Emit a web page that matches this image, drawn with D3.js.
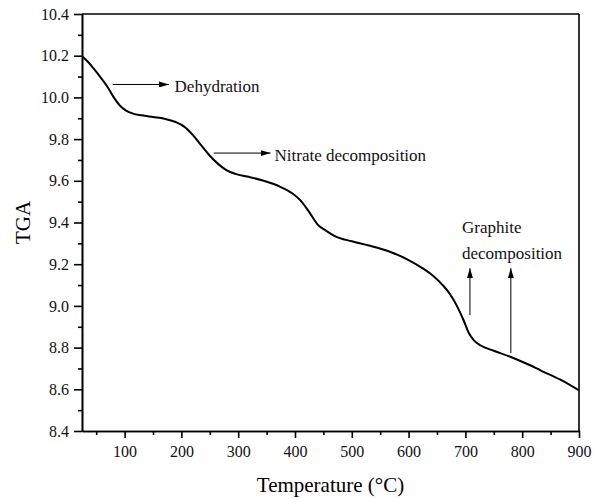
<!DOCTYPE html>
<html>
<head>
<meta charset="utf-8">
<script src="https://cdn.jsdelivr.net/npm/d3@7"></script>
<style>
  body { margin: 0; background: #fff; }
  svg { display: block; font-family: "Liberation Serif", "Times New Roman", serif; }
  .axis path, .axis line { stroke: #000; stroke-width: 1.6px; }
</style>
</head>
<body>
<div id="chart"></div>
<script>
// TGA curve
const temperature = [26, 35, 45, 58, 70, 81, 92, 102, 115, 130, 150, 170, 190, 205, 220, 235, 250, 265, 280, 295,
  320, 345, 375, 395, 410, 425, 440, 455, 470, 500, 530, 567, 600, 625, 645, 660, 672, 685, 697, 706,
  715, 727, 750, 780, 810, 833, 868, 900];
const tga = [10.195, 10.172, 10.14, 10.095, 10.05, 10.00, 9.96, 9.938, 9.922, 9.914, 9.906, 9.898, 9.882, 9.86, 9.82, 9.77, 9.72, 9.68, 9.65, 9.633,
  9.618, 9.60, 9.57, 9.54, 9.505, 9.45, 9.39, 9.36, 9.335, 9.31, 9.29, 9.26, 9.22, 9.18, 9.14, 9.10, 9.06, 9.00, 8.93, 8.87,
  8.835, 8.81, 8.785, 8.755, 8.72, 8.69, 8.645, 8.595];

const xTicks = [100, 200, 300, 400, 500, 600, 700, 800, 900];
const xMinor = [50, 150, 250, 350, 450, 550, 650, 750, 850];
const yTicks = [8.4, 8.6, 8.8, 9.0, 9.2, 9.4, 9.6, 9.8, 10.0, 10.2, 10.4];
const yMinor = [8.5, 8.7, 8.9, 9.1, 9.3, 9.5, 9.7, 9.9, 10.1, 10.3];

// annotations: [x1, y1, x2, y2] in data units
const arrows = [[79, 10.062, 178, 10.062], [257, 9.733, 357, 9.733], [708, 8.956, 708, 9.181], [780, 8.774, 780, 9.181]];
const notes = [["Dehydration", 188, 10.026], ["Nitrate decomposition", 364, 9.695], ["Graphite", 694, 9.35], ["decomposition", 694, 9.225]];

const width = 599, height = 499;
const margin = {top: 14, right: 20, bottom: 68, left: 82};
const serif = "Liberation Serif, Times New Roman, serif";

const svg = d3.select("#chart").append("svg")
    .attr("width", width)
    .attr("height", height);

svg.append("defs").append("marker")
    .attr("id", "head")
    .attr("markerUnits", "userSpaceOnUse")
    .attr("viewBox", "0 0 10 6")
    .attr("refX", 10).attr("refY", 3)
    .attr("markerWidth", 10).attr("markerHeight", 6)
    .attr("orient", "auto")
    .append("path")
    .attr("d", "M0,0L10,3L0,6Z")
    .attr("fill", "#000");

const x = d3.scaleLinear().domain([25, 900]).range([margin.left, width - margin.right]);
const y = d3.scaleLinear().domain([8.4, 10.4]).range([height - margin.bottom, margin.top]);

// frame top and right
svg.append("line")
    .attr("x1", x(25)).attr("x2", x(900))
    .attr("y1", y(10.4)).attr("y2", y(10.4))
    .attr("stroke", "#000").attr("stroke-width", 1.6);
svg.append("line")
    .attr("x1", x(900)).attr("x2", x(900))
    .attr("y1", y(10.4)).attr("y2", y(8.4))
    .attr("stroke", "#000").attr("stroke-width", 1.6);

// axes
svg.append("g").attr("class", "axis")
    .attr("transform", `translate(0,${y(8.4)})`)
    .call(d3.axisBottom(x).tickValues(xMinor).tickSize(4).tickFormat("").tickSizeOuter(0));
svg.append("g").attr("class", "axis")
    .attr("transform", `translate(0,${y(8.4)})`)
    .call(d3.axisBottom(x).tickValues(xTicks).tickSize(7).tickPadding(8).tickSizeOuter(0));

svg.append("g").attr("class", "axis")
    .attr("transform", `translate(${x(25)},0)`)
    .call(d3.axisLeft(y).tickValues(yMinor).tickSize(4).tickFormat("").tickSizeOuter(0));
svg.append("g").attr("class", "axis")
    .attr("transform", `translate(${x(25)},0)`)
    .call(d3.axisLeft(y).tickValues(yTicks).tickSize(8).tickPadding(5).tickFormat(d3.format(".1f")).tickSizeOuter(0));

svg.selectAll(".axis text")
    .style("font-family", serif)
    .style("font-size", "16px")
    .attr("fill", "#111");

// curve
const points = temperature.map((t, i) => [t, tga[i]]);
svg.append("path")
    .datum(points)
    .attr("fill", "none")
    .attr("stroke", "#000")
    .attr("stroke-width", 2)
    .attr("d", d3.line().x(d => x(d[0])).y(d => y(d[1])).curve(d3.curveMonotoneX));

// annotations
svg.selectAll("line.arrow")
    .data(arrows)
    .enter().append("line")
    .attr("class", "arrow")
    .attr("x1", d => x(d[0])).attr("y1", d => y(d[1]))
    .attr("x2", d => x(d[2])).attr("y2", d => y(d[3]))
    .attr("stroke", "#000").attr("stroke-width", 1)
    .attr("marker-end", "url(#head)");

svg.selectAll("text.note")
    .data(notes)
    .enter().append("text")
    .attr("class", "note")
    .attr("x", d => x(d[1])).attr("y", d => y(d[2]))
    .style("font-family", serif)
    .style("font-size", "17px")
    .attr("fill", "#111")
    .text(d => d[0]);

// axis titles
svg.append("text")
    .attr("x", (x(25) + x(900)) / 2)
    .attr("y", 492)
    .attr("text-anchor", "middle")
    .style("font-family", serif)
    .style("font-size", "21px")
    .text("Temperature (°C)");

svg.append("text")
    .attr("transform", `translate(30,${(y(8.4) + y(10.4)) / 2}) rotate(-90)`)
    .attr("text-anchor", "middle")
    .style("font-family", serif)
    .style("font-size", "21px")
    .text("TGA");
</script>
</body>
</html>
